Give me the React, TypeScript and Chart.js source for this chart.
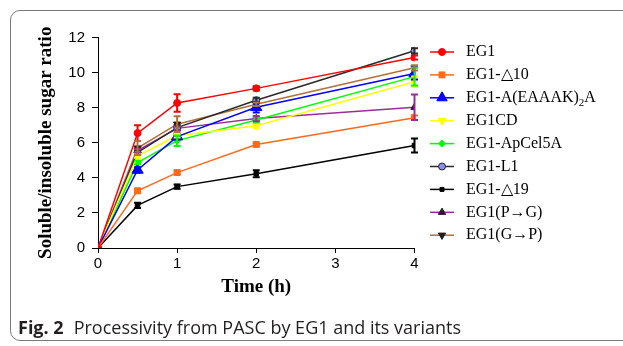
import React, { useEffect, useRef } from 'react';
import { Chart, registerables } from 'chart.js';
import { drawPoint } from 'chart.js/helpers';

Chart.register(...registerables);

// ---- data ----
const times = [0, 0.5, 1, 2, 4];
const xTicks = [0, 1, 2, 3, 4];
const yTicks = [0, 2, 4, 6, 8, 10, 12];

const eg1 = [0, 6.55, 8.27, 9.1, 10.86];
const eg1Err = [0, 0.45, 0.5, 0.12, 0.12];
const eg1D10 = [0, 3.26, 4.3, 5.9, 7.43];
const eg1D10Err = [0, 0.12, 0.1, 0.08, 0.12];
const eg1Linker = [0, 4.45, 6.35, 8.02, 9.95];
const eg1LinkerErr = [0, 0.15, 0.15, 0.3, 0.35];
const eg1CD = [0, 5.25, 6.4, 6.97, 9.48];
const eg1CDErr = [0, 0.1, 0.1, 0.15, 0.3];
const eg1ApCel = [0, 4.87, 6.12, 7.3, 9.77];
const eg1ApCelErr = [0, 0.1, 0.3, 0.15, 0.5];
const eg1L1 = [0, 5.45, 6.86, 8.42, 11.24];
const eg1L1Err = [0, 0.15, 0.15, 0.15, 0.15];
const eg1D19 = [0, 2.43, 3.5, 4.23, 5.84];
const eg1D19Err = [0, 0.15, 0.12, 0.2, 0.4];
const eg1PG = [0, 5.55, 6.82, 7.38, 8.02];
const eg1PGErr = [0, 0.1, 0.1, 0.15, 0.73];
const eg1GP = [0, 5.7, 7.06, 8.19, 10.27];
const eg1GPErr = [0, 0.4, 0.45, 0.1, 0.15];

const seriesNames = [
  'EG1',
  'EG1-△10',
  'EG1-A(EAAAK)₂A',
  'EG1CD',
  'EG1-ApCel5A',
  'EG1-L1',
  'EG1-△19',
  'EG1(P→G)',
  'EG1(G→P)',
];

const xTitle = 'Time (h)';
const yTitle = 'Soluble/insoluble sugar ratio';
const captionBold = 'Fig. 2';
const captionText = 'Processivity from PASC by EG1 and its variants';

const seriesValues = [eg1, eg1D10, eg1Linker, eg1CD, eg1ApCel, eg1L1, eg1D19, eg1PG, eg1GP];
const seriesErrors = [eg1Err, eg1D10Err, eg1LinkerErr, eg1CDErr, eg1ApCelErr, eg1L1Err, eg1D19Err, eg1PGErr, eg1GPErr];

// ---- styles ----
const styles = [
  { line: '#ff0000', fill: '#ff0000', stroke: '#ff0000', shape: 'circle', r: 3.5, lr: 3.5, rot: 0 },
  { line: '#ff6a1a', fill: '#ff6a1a', stroke: '#ff6a1a', shape: 'rect', r: 4.2, lr: 4.2, rot: 0 },
  { line: '#0000ff', fill: '#0000ff', stroke: '#0000ff', shape: 'triangle', r: 6.5, lr: 6, rot: 0 },
  { line: '#ffff00', fill: '#ffff00', stroke: '#ffff00', shape: 'triangle', r: 4.5, lr: 4.5, rot: 180 },
  { line: '#00ff00', fill: '#00ff00', stroke: '#00ff00', shape: 'rectRot', r: 3.5, lr: 3.5, rot: 0 },
  { line: '#2a2a2a', fill: '#8c8cf0', stroke: '#222222', shape: 'circle', r: 3.5, lr: 3.5, rot: 0 },
  { line: '#000000', fill: '#000000', stroke: '#000000', shape: 'rect', r: 3.2, lr: 2.8, rot: 0 },
  { line: '#9b2d9b', fill: '#2a1a2a', stroke: '#2a1a2a', shape: 'triangle', r: 4.2, lr: 4.2, rot: 0 },
  { line: '#b2703a', fill: '#2a1a10', stroke: '#2a1a10', shape: 'triangle', r: 4.2, lr: 4.2, rot: 180 },
];

const errorBarPlugin = {
  id: 'errorBars',
  afterDatasetsDraw(chart: any) {
    const ctx = chart.ctx;
    const xs = chart.scales.x;
    const ys = chart.scales.y;
    chart.data.datasets.forEach((ds: any) => {
      const errs: number[] = ds.errors;
      if (!errs) return;
      ctx.save();
      ctx.strokeStyle = ds.errColor;
      ctx.lineWidth = 2;
      ds.data.forEach((p: any, i: number) => {
        const e = errs[i];
        if (!e) return;
        const x = xs.getPixelForValue(p.x);
        const y1 = ys.getPixelForValue(p.y + e);
        const y2 = ys.getPixelForValue(p.y - e);
        ctx.beginPath();
        ctx.moveTo(x, y1);
        ctx.lineTo(x, y2);
        ctx.moveTo(x - 3.5, y1);
        ctx.lineTo(x + 3.5, y1);
        ctx.moveTo(x - 3.5, y2);
        ctx.lineTo(x + 3.5, y2);
        ctx.stroke();
      });
      ctx.restore();
    });
  },
};

const legendPlugin = {
  id: 'sideLegend',
  afterDraw(chart: any) {
    const ctx = chart.ctx;
    const x0 = 430;
    const x1 = 454;
    const tx = 466;
    const top = 52;
    const step = 22.9;
    chart.data.datasets.forEach((ds: any, i: number) => {
      const y = top + i * step;
      ctx.save();
      ctx.strokeStyle = ds.borderColor;
      ctx.lineWidth = 1.5;
      ctx.beginPath();
      ctx.moveTo(x0, y);
      ctx.lineTo(x1, y);
      ctx.stroke();
      ctx.fillStyle = ds.pointBackgroundColor;
      ctx.strokeStyle = ds.pointBorderColor;
      ctx.lineWidth = 1;
      drawPoint(ctx, { pointStyle: ds.pointStyle, rotation: ds.pointRotation, radius: ds.legendRadius, borderWidth: 1 }, (x0 + x1) / 2, y);
      ctx.fillStyle = '#000';
      ctx.textBaseline = 'middle';
      ctx.textAlign = 'left';
      const label: string = ds.label;
      const parts = label.split('₂');
      let cx = tx;
      parts.forEach((part, pi) => {
        ctx.font = '16px "Liberation Serif"';
        ctx.fillText(part, cx, y);
        cx += ctx.measureText(part).width;
        if (pi < parts.length - 1) {
          ctx.font = '11px "Liberation Serif"';
          ctx.fillText('2', cx, y + 5);
          cx += ctx.measureText('2').width;
        }
      });
      ctx.restore();
    });
  },
};

export default function App() {
  const ref = useRef<HTMLCanvasElement | null>(null);

  useEffect(() => {
    if (!ref.current) return;
    const datasets = seriesNames.map((name, i) => {
      const s = styles[i];
      return {
        label: name,
        data: times.map((t, k) => ({ x: t, y: seriesValues[i][k] })),
        errors: seriesErrors[i],
        errColor: s.line,
        legendRadius: s.lr,
        borderColor: s.line,
        backgroundColor: s.fill,
        borderWidth: 1.5,
        pointStyle: s.shape,
        pointRotation: s.rot,
        pointRadius: s.r,
        pointBackgroundColor: s.fill,
        pointBorderColor: s.stroke,
        pointBorderWidth: 1,
        tension: 0,
        showLine: true,
        fill: false,
      };
    });
    const chart = new Chart(ref.current, {
      type: 'line',
      data: { datasets } as any,
      options: {
        animation: false,
        responsive: false,
        maintainAspectRatio: false,
        devicePixelRatio: 1,
        events: [],
        layout: { padding: { left: 0, top: 37.5, right: 208.5, bottom: 48 } },
        plugins: { legend: { display: false }, tooltip: { enabled: false } },
        scales: {
          x: {
            type: 'linear',
            min: 0,
            max: 4,
            afterBuildTicks: (s: any) => {
              s.ticks = xTicks.map((v) => ({ value: v }));
            },
            ticks: { color: '#000', font: { family: 'Liberation Sans', size: 15 }, padding: 2 },
            grid: { display: true, drawOnChartArea: false, drawTicks: true, tickLength: 5, color: '#000', lineWidth: 1 },
            border: { display: true, color: '#000', width: 1 },
            title: {
              display: true,
              text: xTitle,
              color: '#000',
              font: { family: 'Liberation Serif', size: 19, weight: 'bold' },
              padding: { top: 0, bottom: 0 },
            },
            afterFit: (s: any) => {
              s.height = 50;
            },
          } as any,
          y: {
            type: 'linear',
            min: 0,
            max: 12,
            afterBuildTicks: (s: any) => {
              s.ticks = yTicks.map((v) => ({ value: v }));
            },
            ticks: { color: '#000', font: { family: 'Liberation Sans', size: 15 }, padding: 7 },
            grid: { display: true, drawOnChartArea: false, drawTicks: true, tickLength: 6, color: '#000', lineWidth: 1 },
            border: { display: true, color: '#000', width: 1 },
            title: {
              display: true,
              text: yTitle,
              color: '#000',
              font: { family: 'Liberation Serif', size: 19, weight: 'bold' },
              padding: { top: 35, bottom: 0 },
            },
            afterFit: (s: any) => {
              s.width = 98;
            },
          } as any,
        },
      },
      plugins: [errorBarPlugin, legendPlugin],
    });
    return () => chart.destroy();
  }, []);

  return (
    <div style={{ position: 'fixed', left: 0, top: 0, width: 623, height: 346, overflow: 'hidden', background: '#fff' }}>
      <div
        style={{
          position: 'absolute',
          left: 10,
          top: 10,
          width: 700,
          height: 331,
          border: '1.5px solid #7a7a7a',
          borderRadius: 10,
          boxSizing: 'border-box',
        }}
      />
      <canvas ref={ref} width={623} height={346} style={{ position: 'absolute', left: 0, top: 0, width: 623, height: 346 }} />
      <div
        style={{
          position: 'absolute',
          left: 18,
          top: 315,
          fontFamily: '"Open Sans", sans-serif',
          fontSize: 18,
          lineHeight: '24px',
          color: '#231f20',
          whiteSpace: 'nowrap',
        }}
      >
        <span style={{ fontWeight: 'bold' }}>{captionBold}</span>
        <span style={{ marginLeft: 10 }}>{captionText}</span>
      </div>
    </div>
  );
}
